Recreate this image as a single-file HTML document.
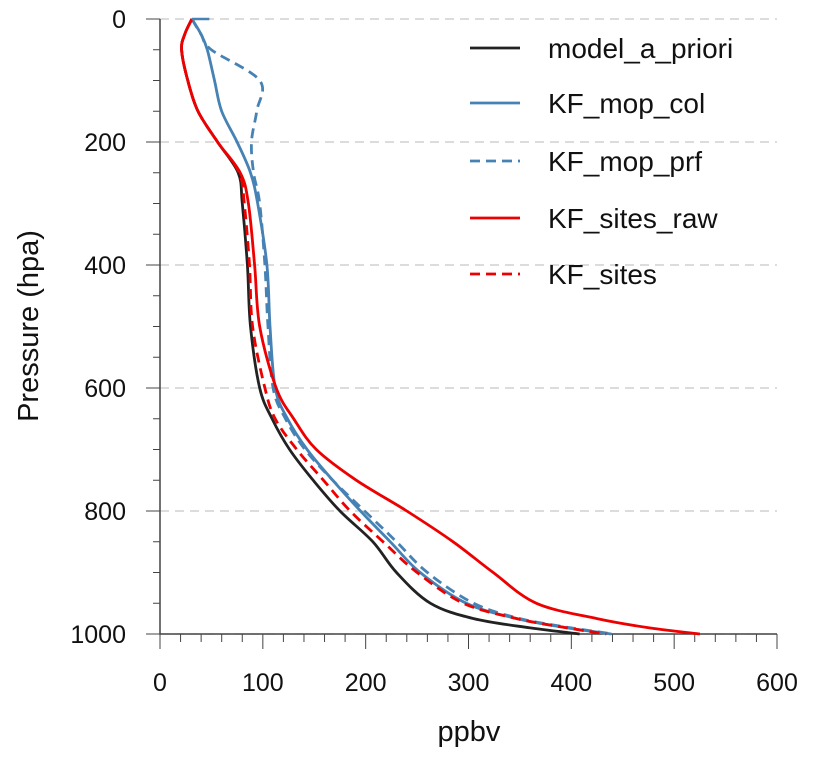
<!DOCTYPE html>
<html><head><meta charset="utf-8"><style>body{margin:0;background:#fff}svg text{font-family:"Liberation Sans",sans-serif}</style></head>
<body>
<svg id="chart" width="813" height="757" xmlns="http://www.w3.org/2000/svg"></svg>
<script>
const pressures = [0,25,50,100,150,200,250,300,400,500,600,650,700,750,800,850,900,950,975,990,1000];
const modelApriori = [31,24,21,27,37,56,76,80,85,88,97,109,126,149,175,207,230,263,305,360,408];
const kfMopCol     = [31,40,46,53,60,75,88,95,104,107,112,124,143,168,195,224,253,298,347,396,439];
const kfMopPrf     = [31,40,50,97,94,89,91,97,102,105,110,122,141,168,199,230,260,305,350,400,441];
const kfSitesRaw   = [31,24,21,27,37,56,78,86,92,97,113,130,152,191,240,285,324,366,425,476,525];
const kfSites      = [31,24,21,27,37,56,77,82,87,90,102,112,133,159,185,217,250,295,347,396,434];
const xTicks = [0,100,200,300,400,500,600];
const yTicks = [0,200,400,600,800,1000];
const seriesNames = ["model_a_priori","KF_mop_col","KF_mop_prf","KF_sites_raw","KF_sites"];

const X0=160,X1=777,Y0=19,Y1=634;
const xs=v=>X0+(v-0)/600*(X1-X0);
const ys=p=>Y0+p/1000*(Y1-Y0);
const svg=document.getElementById('chart');
const NS='http://www.w3.org/2000/svg';
function mk(t,a){const e=document.createElementNS(NS,t);for(const k in a)e.setAttribute(k,a[k]);svg.appendChild(e);return e;}

yTicks.forEach(p=>{
  const g=mk('line',{x1:X0,x2:X1,y1:ys(p),y2:ys(p),stroke:'#c8c8c8','stroke-width':1.2,'stroke-dasharray':'9,6'});
  
  
});
for(let p=0;p<=1000;p+=50){
  const major=p%200===0;
  const t=mk('line',{x1:X0,x2:X0-(major?14:7),y1:ys(p),y2:ys(p),stroke:'#444','stroke-width':1});
  
  
}
for(let v=0;v<=600;v+=20){
  const major=v%100===0;
  const t=mk('line',{x1:xs(v),x2:xs(v),y1:Y1,y2:Y1+(major?15:8),stroke:'#444','stroke-width':1});
  
  
}
const ax=mk('path',{d:`M${X0},${Y0}V${Y1}H${X1}`,fill:'none',stroke:'#444','stroke-width':1.5});


yTicks.forEach(p=>{
  const t=mk('text',{x:126,y:ys(p)+9,'text-anchor':'end','font-size':25,fill:'#111'});t.textContent=p;
  
  
});
xTicks.forEach(v=>{
  const t=mk('text',{x:xs(v),y:691,'text-anchor':'middle','font-size':25,fill:'#111'});t.textContent=v;
  
  
});
let xt=mk('text',{x:469,y:741,'text-anchor':'middle','font-size':29,fill:'#111'});xt.textContent='ppbv';


let yt=mk('text',{x:38,y:326,'text-anchor':'middle','font-size':29,fill:'#111',transform:'rotate(-90 38 326)'});yt.textContent='Pressure (hpa)';



const styles=[['#222',''],['#4682b4',''],['#4682b4','10,6'],['#ee0000',''],['#ee0000','10,6']];
function smoothPath(pts){
  let d='M'+pts[0][0].toFixed(1)+','+pts[0][1].toFixed(1);
  for(let i=0;i<pts.length-1;i++){
    const p0=pts[Math.max(0,i-1)],p1=pts[i],p2=pts[i+1],p3=pts[Math.min(pts.length-1,i+2)];
    const c1=[p1[0]+(p2[0]-p0[0])/6,p1[1]+(p2[1]-p0[1])/6];
    const c2=[p2[0]-(p3[0]-p1[0])/6,p2[1]-(p3[1]-p1[1])/6];
    d+='C'+c1[0].toFixed(1)+','+c1[1].toFixed(1)+' '+c2[0].toFixed(1)+','+c2[1].toFixed(1)+' '+p2[0].toFixed(1)+','+p2[1].toFixed(1);
  }
  return d;
}
function drawSeries(i,vals){
  const pts=vals.map((v,j)=>[xs(v),ys(pressures[j])]);
  const pth=mk('path',{d:smoothPath(pts),fill:'none',stroke:styles[i][0],'stroke-width':2.8,'stroke-dasharray':styles[i][1],'stroke-linejoin':'round'});
  
  
}
drawSeries(0,modelApriori);
drawSeries(1,kfMopCol);
drawSeries(2,kfMopPrf);
drawSeries(4,kfSites);
drawSeries(3,kfSitesRaw);
const cap=mk('line',{x1:xs(31),x2:xs(48),y1:ys(0),y2:ys(0),stroke:'#4682b4','stroke-width':2.5});



const ly=[48,103,161,218,274];
seriesNames.forEach((n,i)=>{
  const l=mk('line',{x1:470,x2:520,y1:ly[i],y2:ly[i],stroke:styles[i][0],'stroke-width':2.8,'stroke-dasharray':styles[i][1]});
  
  
  const t=mk('text',{x:548,y:ly[i]+10,'font-size':28,fill:'#111'});t.textContent=n;
  
  
});
</script>
</body></html>
